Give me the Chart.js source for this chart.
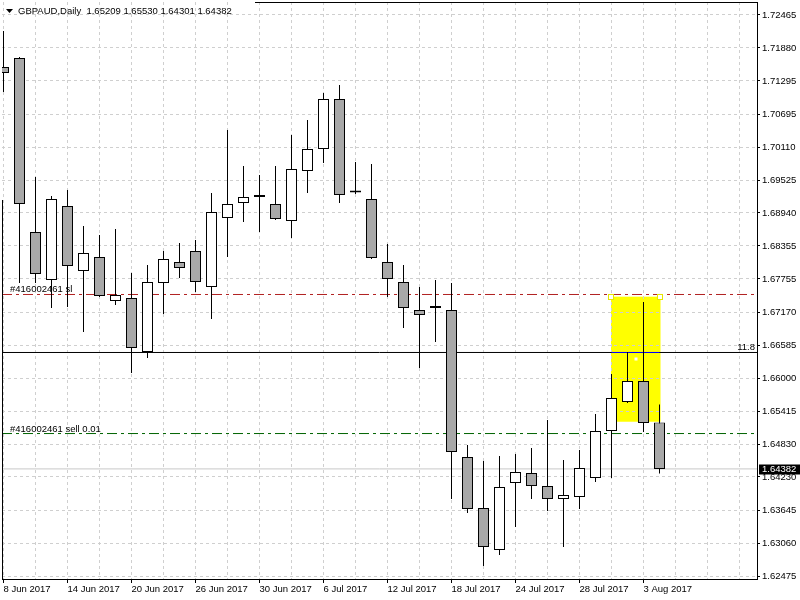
<!DOCTYPE html>
<html>
<head>
<meta charset="utf-8">
<script src="https://cdn.jsdelivr.net/npm/chart.js@4.4.1/dist/chart.umd.min.js"></script>
<style>
  html, body { margin: 0; padding: 0; background: #fff; }
  #wrap { width: 800px; height: 600px; }
</style>
</head>
<body>
<div id="wrap"><canvas id="chart" width="800" height="600"></canvas></div>
<script>
// --- DADOS ---
const titulo = "GBPAUD,Daily  1.65209 1.65530 1.64301 1.64382";

// rótulos do eixo X (um a cada 4 candles)
const xLabels = ["8 Jun 2017", "14 Jun 2017", "20 Jun 2017", "26 Jun 2017", "30 Jun 2017",
  "6 Jul 2017", "12 Jul 2017", "18 Jul 2017", "24 Jul 2017", "28 Jul 2017", "3 Aug 2017"];

// rótulos do eixo de preço, de cima para baixo
const yLabels = ["1.72465", "1.71880", "1.71295", "1.70695", "1.70110", "1.69525", "1.68940",
  "1.68355", "1.67755", "1.67170", "1.66585", "1.66000", "1.65415", "1.64830", "1.64230",
  "1.63645", "1.63060", "1.62475"];

const opens = [1.71539, 1.71699, 1.68601, 1.67746, 1.69064, 1.67906, 1.68156, 1.67372, 1.67425, 1.66464,
  1.67693, 1.68066, 1.68262, 1.67621, 1.68850, 1.69117, 1.69224, 1.69099, 1.68797, 1.69687,
  1.70079, 1.70969, 1.69313, 1.69188, 1.68066, 1.67710, 1.67212, 1.67247, 1.67212, 1.64594,
  1.63686, 1.62938, 1.64131, 1.64309, 1.64077, 1.63846, 1.63882, 1.64220, 1.65057, 1.65573,
  1.65947, 1.65209];
const highs = [1.72180, 1.71717, 1.69580, 1.69242, 1.69349, 1.68708, 1.68547, 1.68654, 1.67871, 1.68013,
  1.68262, 1.68405, 1.68458, 1.69295, 1.70417, 1.69776, 1.69616, 1.69776, 1.70328, 1.70595,
  1.71076, 1.71218, 1.69847, 1.69812, 1.68387, 1.68013, 1.67621, 1.67746, 1.67693, 1.64808,
  1.64523, 1.64612, 1.64647, 1.64754, 1.65253, 1.64540, 1.64719, 1.65360, 1.66072, 1.66464,
  1.67354, 1.65530];
const lows = [1.71094, 1.67693, 1.67693, 1.67247, 1.67265, 1.66820, 1.67443, 1.67301, 1.66090, 1.66357,
  1.67140, 1.67781, 1.67532, 1.67051, 1.68156, 1.68779, 1.68601, 1.68814, 1.68494, 1.69295,
  1.69829, 1.69117, 1.69277, 1.68120, 1.67443, 1.66891, 1.66179, 1.66642, 1.63846, 1.63597,
  1.62653, 1.62849, 1.63347, 1.63846, 1.63632, 1.62991, 1.63668, 1.64149, 1.64220, 1.65556,
  1.65039, 1.64301];
const closes = [1.71432, 1.69099, 1.67853, 1.69188, 1.67995, 1.68227, 1.67461, 1.67479, 1.66535, 1.67710,
  1.68120, 1.67960, 1.67710, 1.68957, 1.69099, 1.69224, 1.69230, 1.68832, 1.69723, 1.70079,
  1.70969, 1.69260, 1.69305, 1.68138, 1.67764, 1.67247, 1.67123, 1.67250, 1.64683, 1.63668,
  1.62991, 1.64060, 1.64327, 1.64077, 1.63846, 1.63917, 1.64398, 1.65057, 1.65645, 1.65947,
  1.65199, 1.64382];

// linhas horizontais
const slLevel = 1.67488;
const slLabel = "#416002461 sl";
const entryLevel = 1.65012;
const entryLabel = "#416002461 sell 0.01";
const hLineLevel = 1.66455;
const hLineLabel = "11.8";
const bidLevel = 1.64382;
const bidLabel = "1.64382";

// retângulo amarelo (índices de candle e preços)
const rectFrom = 38;
const rectTo = 41;
const rectTop = 1.67449;
const rectBottom = 1.65222;

// --- LAYOUT ---
const area = { left: 2, top: 2, right: 757, bottom: 579 };
const firstCandlePx = 3.5;
const candleStep = 16;
const xMin = (area.left - firstCandlePx) / candleStep;
const xMax = (area.right - firstCandlePx) / candleStep;

const yTop = Number(yLabels[0]);
const yBot = Number(yLabels[yLabels.length - 1]);
const pxPorUnidade = (576 - 15) / (yTop - yBot);
const yMax = yTop + (15 - area.top) / pxPorUnidade;
const yMin = yBot - (area.bottom - 576) / pxPorUnidade;
const yTicks = yLabels.map((_, k) => yTop - k * (yTop - yBot) / (yLabels.length - 1));

const FONTE = '"Liberation Sans", Arial, sans-serif';
const TAM = 9.5;
const CINZA_GRADE = "#CFCFCF";

Chart.defaults.font.family = FONTE;
Chart.defaults.font.size = TAM;
Chart.defaults.color = "#000";

const corpos = opens.map((o, i) => ({ x: i, y: [o, closes[i]] }));
const pavios = lows.map((l, i) => ({ x: i, y: [l, highs[i]] }));
const coresCorpo = opens.map((o, i) => (closes[i] < o ? "#A8A8A8" : "#FFFFFF"));

function linhaH(nivel, de = xMin, ate = xMax) {
  return [{ x: de, y: nivel }, { x: ate, y: nivel }];
}

// zera o espaço extra que o Chart.js reserva para os rótulos das pontas
function semPadding(s) {
  s.paddingTop = 0;
  s.paddingBottom = 0;
  s.paddingLeft = 0;
  s.paddingRight = 0;
}

// --- EXTRAS MT4 (título, rótulos, retângulo) ---
const extrasMT4 = {
  id: "extrasMT4",
  beforeDraw(chart) {
    const { ctx, scales } = chart;
    ctx.save();
    ctx.fillStyle = "#fff";
    ctx.fillRect(0, 0, chart.width, chart.height);
    const x1 = scales.x.getPixelForValue(rectFrom) - 0.5;
    const x2 = scales.x.getPixelForValue(rectTo) + 1;
    const y1 = scales.y.getPixelForValue(rectTop);
    const y2 = scales.y.getPixelForValue(rectBottom);
    ctx.fillStyle = "#FFFF00";
    ctx.fillRect(x1, y1, x2 - x1, y2 - y1);
    ctx.restore();
  },
  afterDraw(chart) {
    const { ctx, scales } = chart;
    const ys = scales.y;
    const xs = scales.x;
    ctx.save();

    // moldura
    ctx.strokeStyle = "#000";
    ctx.lineWidth = 1;
    ctx.beginPath();
    ctx.moveTo(255, area.top + 0.5);
    ctx.lineTo(area.right, area.top + 0.5);
    ctx.moveTo(area.left + 0.5, 200);
    ctx.lineTo(area.left + 0.5, area.bottom);
    ctx.stroke();

    // título
    ctx.fillStyle = "#000";
    ctx.beginPath();
    ctx.moveTo(6, 9);
    ctx.lineTo(13, 9);
    ctx.lineTo(9.5, 13);
    ctx.closePath();
    ctx.fill();
    ctx.font = `${TAM}px ${FONTE}`;
    ctx.textBaseline = "middle";
    ctx.textAlign = "left";
    ctx.fillText(titulo, 18, 11);

    // rótulos das linhas
    ctx.textBaseline = "alphabetic";
    ctx.fillText(slLabel, 10, ys.getPixelForValue(slLevel) - 2);
    ctx.fillText(entryLabel, 10, ys.getPixelForValue(entryLevel) - 2);
    ctx.textAlign = "right";
    ctx.fillText(hLineLabel, 755, ys.getPixelForValue(hLineLevel) - 2.5);

    // preço atual no eixo
    const yb = ys.getPixelForValue(bidLevel);
    ctx.fillStyle = "#000";
    ctx.fillRect(759, Math.round(yb) - 4.5, 41, 10);
    ctx.fillStyle = "#fff";
    ctx.textAlign = "left";
    ctx.textBaseline = "middle";
    ctx.fillText(bidLabel, 762, yb);

    // alças do retângulo selecionado
    const x1 = xs.getPixelForValue(rectFrom) - 0.5;
    const x2 = xs.getPixelForValue(rectTo) + 0.5;
    const y1 = ys.getPixelForValue(rectTop);
    const y2 = ys.getPixelForValue(rectBottom);
    ctx.fillStyle = "#fff";
    ctx.strokeStyle = "#E6E600";
    [[x1, y1], [x2, y1]].forEach(([hx, hy]) => {
      ctx.fillRect(Math.round(hx) - 2, Math.round(hy) - 2, 4, 4);
      ctx.strokeRect(Math.round(hx) - 2.5, Math.round(hy) - 2.5, 5, 5);
    });
    ctx.fillRect(Math.round((x1 + x2) / 2) - 1.5, Math.round((y1 + y2) / 2) - 1.5, 3, 3);

    ctx.restore();
  }
};

// --- GRÁFICO ---
new Chart(document.getElementById("chart"), {
  type: "bar",
  data: {
    datasets: [
      {
        label: "corpo",
        data: corpos,
        backgroundColor: coresCorpo,
        borderColor: "#000",
        borderWidth: 1,
        borderSkipped: false,
        barThickness: 11,
        minBarLength: 2,
        inflateAmount: 0,
        grouped: false,
        order: 0,
      },
      {
        label: "pavio",
        data: pavios,
        backgroundColor: "#000",
        borderWidth: 0,
        barThickness: 1,
        inflateAmount: 0,
        grouped: false,
        order: 1,
      },
      {
        type: "line",
        label: "blue",
        data: linhaH(hLineLevel, rectFrom, rectTo),
        borderColor: "#0000FF",
        borderWidth: 1,
        pointRadius: 0,
        order: 2,
      },
      {
        type: "line",
        label: "h",
        data: linhaH(hLineLevel),
        borderColor: "#000",
        borderWidth: 1,
        pointRadius: 0,
        order: 3,
      },
      {
        type: "line",
        label: "sl",
        data: linhaH(slLevel),
        borderColor: "#B22222",
        borderWidth: 1,
        borderDash: [10, 4, 3, 4],
        pointRadius: 0,
        order: 4,
      },
      {
        type: "line",
        label: "entry",
        data: linhaH(entryLevel),
        borderColor: "#006400",
        borderWidth: 1,
        borderDash: [10, 4, 3, 4],
        pointRadius: 0,
        order: 5,
      },
      {
        type: "line",
        label: "bid",
        data: linhaH(bidLevel),
        borderColor: "#C8C8C8",
        borderWidth: 1,
        pointRadius: 0,
        order: 6,
      },
    ],
  },
  options: {
    responsive: false,
    animation: false,
    events: [],
    layout: { padding: { left: area.left, top: area.top, right: 0, bottom: 0 } },
    plugins: {
      legend: { display: false },
      tooltip: { enabled: false },
    },
    scales: {
      x: {
        type: "linear",
        min: xMin,
        max: xMax,
        bounds: "data",
        offset: false,
        afterFit: (s) => { s.height = 600 - area.bottom; semPadding(s); },
        afterBuildTicks: (s) => {
          const t = [];
          for (let v = 0; v <= Math.floor(xMax); v += 2) t.push({ value: v });
          s.ticks = t;
        },
        grid: {
          offset: false,
          color: CINZA_GRADE,
          tickLength: 4,
          tickColor: (c) => (c.tick && c.tick.value % 4 === 0 && xLabels[c.tick.value / 4]) ? "#000" : "rgba(0,0,0,0)",
        },
        border: { display: true, color: "#000", width: 1, dash: [3, 3] },
        ticks: {
          autoSkip: false,
          maxRotation: 0,
          align: "start",
          padding: 1,
          color: "#000",
          callback: (v) => (v % 4 === 0 && xLabels[v / 4]) ? xLabels[v / 4] : "",
        },
      },
      y: {
        type: "linear",
        position: "right",
        min: yMin,
        max: yMax,
        bounds: "data",
        afterFit: (s) => { s.width = 800 - area.right; semPadding(s); },
        afterBuildTicks: (s) => { s.ticks = yTicks.map((v) => ({ value: v })); },
        grid: {
          color: CINZA_GRADE,
          tickLength: 3,
          tickColor: "#000",
        },
        border: { display: true, color: "#000", width: 1, dash: [3, 3] },
        ticks: {
          padding: 2,
          color: "#000",
          callback: (v, i) => yLabels[i],
        },
      },
    },
  },
  plugins: [extrasMT4],
});
</script>
</body>
</html>
